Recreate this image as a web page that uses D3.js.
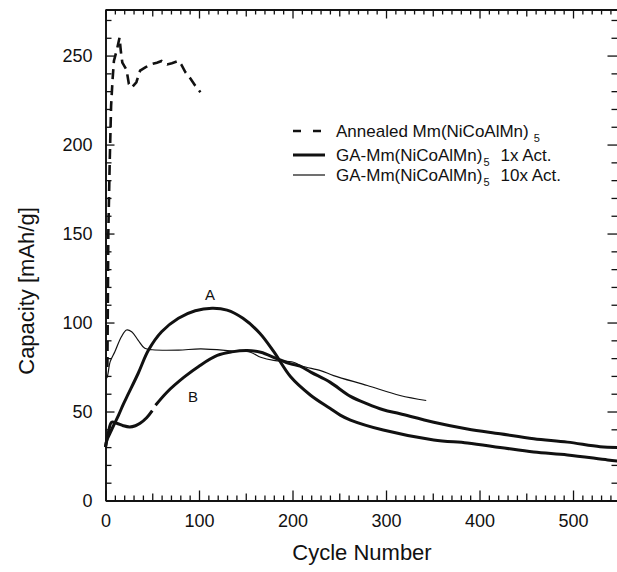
<!DOCTYPE html>
<html>
<head>
<meta charset="utf-8">
<script src="https://cdn.jsdelivr.net/npm/d3@7"></script>
<style>
  body { margin: 0; background: #fff; }
  svg { display: block; }
  text { font-family: "Liberation Sans", Arial, sans-serif; fill: #111; }
</style>
</head>
<body>
<div id="chart"></div>
<script>
// [cycle, capacity mAh/g]
var annealed = [[2,75],[2.5,110],[3,150],[4.5,190],[6,222],[7.5,236],[9,247],[12.5,254],[15,260],[16.5,252],
    [18,246],[22.5,242],[25,234],[28,232],[33,235],[37,241.5],[43,243.5],[50,245.3],[55,246],[60,247],
    [66,245],[71,245.7],[78,247],[81,245],[85.5,240.6],[91,237],[96,233],[101.5,229.4]];

var curveA = [[0,30],[1.5,34],[5,38],[8.5,42],[14,48],[19,54],[24.5,60],[35,71.5],[46,84.5],[60,94.8],
    [78,102.4],[96,106.6],[114,108],[130,107],[147,102.4],[165,94],[180,83.6],[198,69.5],[219,59.3],
    [240,51.8],[251,48],[262,45.2],[297,39.6],[351,34],[387,32.3],[422,29.8],[458,27.2],[494,25.6],
    [537,22.8],[548,22.2]];

// null = the small break in curve B near cycle 52
var curveB = [[0,30],[3,38],[6.5,44],[12,43.4],[19,42],[26,41.3],[32,42],[37,43.4],[44,46.5],[50,50.5],
    null,[53.5,53.5],[66,61],[84,69.3],[100,75.5],[119.5,81.5],[135,83.5],[151.5,84.3],[166,83.3],
    [183.6,79.6],[198,76.8],[208,75.5],[220,72],[240,66.5],[262,58.5],[280,54.3],[297,51],[315,48.7],
    [351,44],[387,40.2],[422,37.5],[458,34.7],[494,32.8],[529,30.2],[548,29.8]];

var act10x = [[0,68.5],[1.5,69],[5,78],[10,83.6],[17,92],[22.5,95.8],[28,94.8],[35,90],[42,85.5],[50,84.7],
    [78,84.5],[102,85.2],[137,84],[155,83.3],[166,80.5],[180,78.7],[201,77.7],[210,75.6],[230,73],
    [244,70.2],[280,64.6],[315,59],[343,56.2]];

var xTicks = [0, 100, 200, 300, 400, 500];
var yTicks = [0, 50, 100, 150, 200, 250];
var legendNames = ['Annealed Mm(NiCoAlMn)', 'GA-Mm(NiCoAlMn)', 'GA-Mm(NiCoAlMn)'];
var legendTails = ['', '1x Act.', '10x Act.'];

var W = 617, H = 572;

var x = d3.scaleLinear().domain([0, 548]).range([105.5, 617.9]);
var y = d3.scaleLinear().domain([0, 276]).range([500.5, 9.3]);

var svg = d3.select('#chart').append('svg')
    .attr('width', W)
    .attr('height', H);

var xMinor = d3.range(0, 550, 10).filter(function(d) { return d % 50 !== 0; });
var xMid = d3.range(50, 550, 100);
var yMinor = d3.range(0, 280, 10).filter(function(d) { return d % 50 !== 0; });

function styleAxis(g) {
    g.attr('font-family', null).attr('font-size', null);
    g.select('.domain').attr('stroke', '#111').attr('stroke-width', 1.6);
    g.selectAll('.tick line').attr('stroke', '#111').attr('stroke-width', 1.3);
    g.selectAll('.tick text').attr('fill', '#111').style('font-size', '18px');
}

// bottom axis
svg.append('g').attr('transform', 'translate(0,500.5)')
    .call(d3.axisBottom(x).tickValues(xMinor).tickSize(-5).tickSizeOuter(0).tickFormat(''))
    .call(styleAxis);
svg.append('g').attr('transform', 'translate(0,500.5)')
    .call(d3.axisBottom(x).tickValues(xMid).tickSize(-7).tickSizeOuter(0).tickFormat(''))
    .call(styleAxis);
svg.append('g').attr('transform', 'translate(0,500.5)')
    .call(d3.axisBottom(x).tickValues(xTicks).tickSize(-10).tickSizeOuter(0).tickPadding(14))
    .call(styleAxis);

// top axis (ticks only)
svg.append('g').attr('transform', 'translate(0,9.5)')
    .call(d3.axisTop(x).tickValues(xMinor).tickSize(-5).tickSizeOuter(0).tickFormat(''))
    .call(styleAxis);
svg.append('g').attr('transform', 'translate(0,9.5)')
    .call(d3.axisTop(x).tickValues(xMid).tickSize(-7).tickSizeOuter(0).tickFormat(''))
    .call(styleAxis);
svg.append('g').attr('transform', 'translate(0,9.5)')
    .call(d3.axisTop(x).tickValues(xTicks).tickSize(-9).tickSizeOuter(0).tickFormat(''))
    .call(styleAxis);

// left axis
svg.append('g').attr('transform', 'translate(105.5,0)')
    .call(d3.axisLeft(y).tickValues(yMinor).tickSize(-6).tickSizeOuter(0).tickFormat(''))
    .call(styleAxis);
svg.append('g').attr('transform', 'translate(105.5,0)')
    .call(d3.axisLeft(y).tickValues(yTicks).tickSize(-9).tickSizeOuter(0).tickPadding(13))
    .call(styleAxis);

// right axis (line falls just off the page, only the ticks show)
svg.append('g').attr('transform', 'translate(617.5,0)')
    .call(d3.axisRight(y).tickValues(yMinor).tickSize(-6).tickSizeOuter(0).tickFormat(''))
    .call(styleAxis);
svg.append('g').attr('transform', 'translate(617.5,0)')
    .call(d3.axisRight(y).tickValues(yTicks).tickSize(-10).tickSizeOuter(0).tickFormat(''))
    .call(styleAxis);

// axis titles
svg.append('text')
    .attr('x', 362).attr('y', 560)
    .attr('text-anchor', 'middle')
    .style('font-size', '22px')
    .text('Cycle Number');
svg.append('text')
    .attr('transform', 'translate(34,291) rotate(-90)')
    .attr('text-anchor', 'middle')
    .style('font-size', '22px')
    .text('Capacity [mAh/g]');

// curves
var line = d3.line()
    .defined(function(d) { return d != null; })
    .x(function(d) { return x(d[0]); })
    .y(function(d) { return y(d[1]); })
    .curve(d3.curveCatmullRom.alpha(0.5));

var lineJagged = d3.line()
    .x(function(d) { return x(d[0]); })
    .y(function(d) { return y(d[1]); });

svg.append('path')
    .datum(act10x)
    .attr('fill', 'none')
    .attr('stroke', '#111')
    .attr('stroke-width', 1.2)
    .attr('d', line);

svg.append('path')
    .datum(curveA)
    .attr('fill', 'none')
    .attr('stroke', '#111')
    .attr('stroke-width', 3)
    .attr('stroke-linejoin', 'round')
    .attr('d', line);

svg.append('path')
    .datum(curveB)
    .attr('fill', 'none')
    .attr('stroke', '#111')
    .attr('stroke-width', 3)
    .attr('stroke-linejoin', 'round')
    .attr('d', line);

svg.append('path')
    .datum(annealed)
    .attr('fill', 'none')
    .attr('stroke', '#111')
    .attr('stroke-width', 2.6)
    .attr('stroke-dasharray', '10,6')
    .attr('d', lineJagged);

// curve labels
svg.append('text').attr('x', 210).attr('y', 300)
    .attr('text-anchor', 'middle').style('font-size', '15px').text('A');
svg.append('text').attr('x', 193).attr('y', 402)
    .attr('text-anchor', 'middle').style('font-size', '15px').text('B');

// legend
var legendY = [131, 155, 175];
var legendStroke = [2.6, 3, 1.2];
var legendDash = ['8,12', null, null];

var leg = svg.append('g');
legendNames.forEach(function(name, i) {
    leg.append('line')
        .attr('x1', 293).attr('x2', i === 0 ? 321 : 325)
        .attr('y1', legendY[i]).attr('y2', legendY[i])
        .attr('stroke', '#111')
        .attr('stroke-width', legendStroke[i])
        .attr('stroke-dasharray', legendDash[i]);

    var t = leg.append('text')
        .attr('x', 336).attr('y', legendY[i] + 6)
        .style('font-size', '17px');
    t.append('tspan').text(name);
    t.append('tspan').attr('dx', i === 0 ? 5 : 1).attr('dy', 5)
        .style('font-size', '11px').text('5');
    if (legendTails[i]) {
        t.append('tspan').attr('dx', 11).attr('dy', -5).text(legendTails[i]);
    }
});
</script>
</body>
</html>
